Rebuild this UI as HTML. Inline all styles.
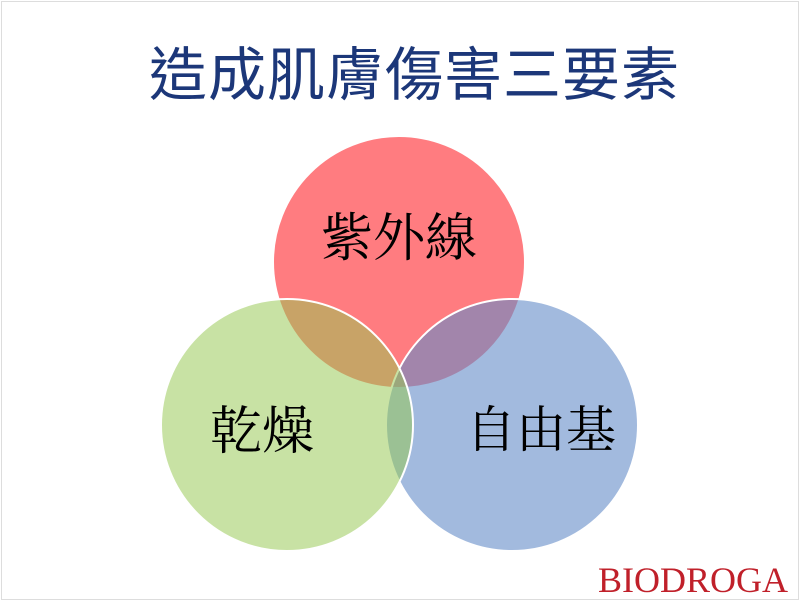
<!DOCTYPE html>
<html><head><meta charset="utf-8"><style>
html,body{margin:0;padding:0;background:#fff}
body{width:800px;height:601px;position:relative;overflow:hidden}
.frame{position:absolute;left:1px;top:1px;width:796px;height:597px;border:1px solid #ddd}
.t{position:absolute;font-family:"Liberation Serif","Noto Serif CJK SC",serif;color:#000;white-space:nowrap}
</style></head><body>
<div class="frame"></div>
<div style="position:absolute;left:149px;top:38px;font-family:'Liberation Sans','Noto Sans CJK TC',sans-serif;font-size:58px;line-height:76px;color:#1c3779;letter-spacing:1px;white-space:nowrap">造成肌膚傷害三要素</div>
<svg width="800" height="601" style="position:absolute;left:0;top:0">
<g stroke="#fff" stroke-width="2">
<circle cx="399" cy="262" r="126" fill="rgb(255,124,128)"/>
<circle cx="512" cy="425" r="126" fill="rgb(100,140,200)" fill-opacity="0.6"/>
<circle cx="287" cy="425" r="126" fill="rgb(150,200,80)" fill-opacity="0.52"/>
</g>
</svg>
<div class="t" style="left:321px;top:209px;font-size:52px;line-height:62px">紫外線</div>
<div class="t" style="left:210px;top:402px;font-size:52px;line-height:62px">乾燥</div>
<div class="t" style="left:466px;top:400px;font-size:50px;line-height:60px">自由基</div>
<div style="position:absolute;left:598px;top:560px;font-family:'Liberation Serif',serif;font-size:36px;line-height:40px;color:#c0202a;white-space:nowrap">BIODROGA</div>
</body></html>
